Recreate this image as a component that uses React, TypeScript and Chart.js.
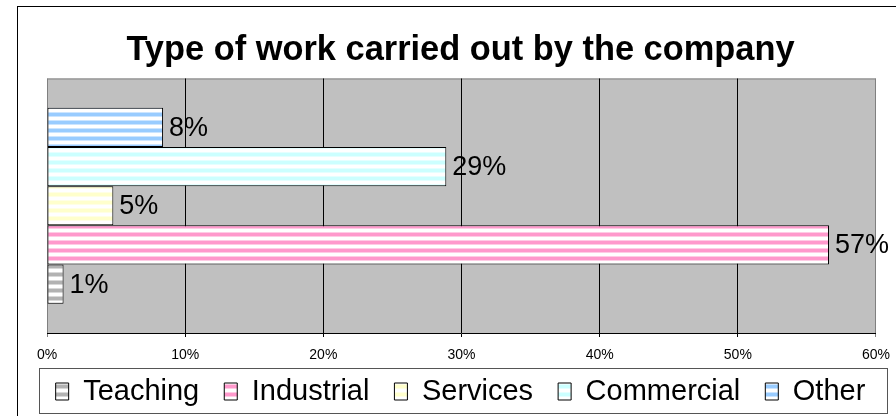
import React, { useEffect, useRef } from 'react';
import { Chart, registerables } from 'chart.js';

Chart.register(...registerables);

const TITLE = 'Type of work carried out by the company';
const categories = [''];
// dataset order = top to bottom in the plot
const seriesNames = ['Other', 'Commercial', 'Services', 'Industrial', 'Teaching'];
const seriesValues = [8.4, 28.9, 4.8, 56.6, 1.2];
const seriesColors = ['#99ccff', '#ccffff', '#ffffcc', '#ff99cc', '#b2b2b2'];
const axisMin = 0;
const axisMax = 60;
const axisStep = 10;

const FONT = '"Liberation Sans", Arial, sans-serif';

function stripePattern(ctx: CanvasRenderingContext2D, color: string) {
  const c = document.createElement('canvas');
  c.width = 8;
  c.height = 8;
  const g = c.getContext('2d')!;
  g.fillStyle = '#ffffff';
  g.fillRect(0, 0, 8, 8);
  g.fillStyle = color;
  g.fillRect(0, 1, 8, 3);
  g.globalAlpha = 0.5;
  g.fillRect(0, 0, 8, 1);
  g.fillRect(0, 4, 8, 1);
  return ctx.createPattern(c, 'repeat') as CanvasPattern;
}

const framePlugin = {
  id: 'frame',
  afterLayout(chart: any) {
    // let the x tick labels draw below the (shortened) axis box without clipping
    const x = chart.scales.x;
    if (x) x.bottom = chart.height;
  },
  beforeDraw(chart: any) {
    const { ctx, chartArea: a } = chart;
    ctx.save();
    ctx.fillStyle = '#ffffff';
    ctx.fillRect(0, 0, chart.width, chart.height);
    ctx.fillStyle = '#c0c0c0';
    ctx.fillRect(a.left, a.top, a.right - a.left, a.bottom - a.top);
    ctx.strokeStyle = '#808080';
    ctx.lineWidth = 1;
    ctx.beginPath();
    ctx.moveTo(a.left + 0.5, a.bottom);
    ctx.lineTo(a.left + 0.5, a.top + 0.5);
    ctx.lineTo(a.right - 0.5, a.top + 0.5);
    ctx.lineTo(a.right - 0.5, a.bottom);
    ctx.stroke();
    ctx.restore();
  },
  afterDraw(chart: any) {
    const { ctx } = chart;
    const lg = chart.legend;
    ctx.save();
    ctx.strokeStyle = '#000000';
    ctx.lineWidth = 1;
    ctx.strokeRect(17.5, 6.5, 2000, 2000);
    if (lg) {
      ctx.strokeStyle = '#555555';
      ctx.strokeRect(39.5, lg.top + 16.5, chart.width - 48, lg.bottom - lg.top - 19);
    }
    ctx.restore();
  },
};

const valueLabelPlugin = {
  id: 'valueLabels',
  afterDatasetsDraw(chart: any) {
    const { ctx } = chart;
    ctx.save();
    ctx.font = `27px ${FONT}`;
    ctx.fillStyle = '#000000';
    ctx.textAlign = 'left';
    ctx.textBaseline = 'middle';
    chart.data.datasets.forEach((ds: any, i: number) => {
      const meta = chart.getDatasetMeta(i);
      meta.data.forEach((el: any, j: number) => {
        const v = ds.data[j];
        ctx.fillText(`${Math.round(v)}%`, el.x + 6, el.y + 1);
      });
    });
    ctx.restore();
  },
};

export default function App() {
  const ref = useRef<HTMLCanvasElement>(null);

  useEffect(() => {
    const canvas = ref.current!;
    const ctx = canvas.getContext('2d')!;
    Chart.defaults.font.family = FONT;
    const datasets = seriesNames.map((name, i) => ({
      label: name,
      data: [seriesValues[i]],
      backgroundColor: stripePattern(ctx, seriesColors[i]),
      borderColor: '#000000',
      borderWidth: 1,
      borderSkipped: false,
      xAxisID: 'x',
      yAxisID: 'y',
      categoryPercentage: 0.77,
      barPercentage: 1.0,
    }));
    const chart = new Chart(canvas, {
      type: 'bar',
      data: { labels: categories, datasets },
      options: {
        indexAxis: 'y',
        responsive: false,
        animation: false,
        devicePixelRatio: 1,
        layout: { padding: { left: 25, right: 0, top: 0, bottom: 0 } },
        scales: {
          x: {
            type: 'linear',
            position: 'bottom',
            min: axisMin,
            max: axisMax,
            ticks: {
              stepSize: axisStep,
              color: '#000000',
              font: { size: 14, lineHeight: 24 / 14 },
              padding: 6,
              maxRotation: 0,
              callback: (v: any) => `${v}%`,
            },
            grid: {
              color: (c: any) =>
                c.tick && (c.tick.value === axisMin || c.tick.value === axisMax) ? '#808080' : '#000000',
              lineWidth: 1,
              tickLength: 4,
              drawTicks: true,
            },
            border: { display: true, color: '#000000', width: 1 },
            afterFit: (s: any) => {
              s.height = 19;
            },
          },
          y: {
            type: 'category',
            position: 'left',
            ticks: { display: false },
            grid: { display: false },
            border: { display: false },
            afterFit: (s: any) => {
              s.width = 22;
            },
          },
        },
        plugins: {
          title: {
            display: true,
            text: TITLE,
            color: '#000000',
            font: { size: 34.4, weight: 'bold', lineHeight: 1.2 },
            padding: { top: 29.6, bottom: 7.6 },
          },
          legend: {
            display: true,
            position: 'bottom',
            labels: {
              color: '#000000',
              font: { size: 29 },
              boxWidth: 13,
              boxHeight: 17,
              padding: 25,
              sort: (a: any, b: any) => b.datasetIndex - a.datasetIndex,
            },
          },
          tooltip: { enabled: false },
        },
      },
      plugins: [framePlugin, valueLabelPlugin],
    } as any);
    return () => chart.destroy();
  }, []);

  return (
    <div style={{ position: 'fixed', left: 0, top: 0, width: 896, height: 416, background: '#fff' }}>
      <canvas ref={ref} width={896} height={416} style={{ display: 'block', width: 896, height: 416 }} />
    </div>
  );
}
